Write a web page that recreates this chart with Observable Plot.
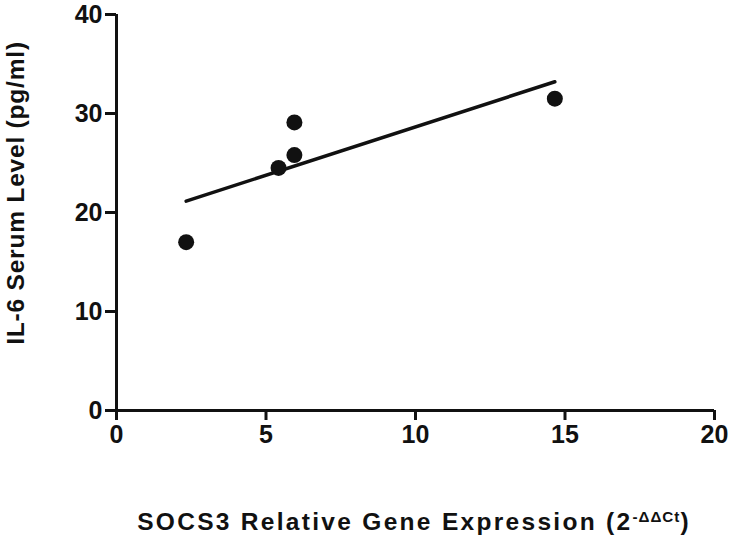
<!DOCTYPE html>
<html><head><meta charset="utf-8">
<script src="https://cdn.jsdelivr.net/npm/d3@7"></script>
<script src="https://cdn.jsdelivr.net/npm/@observablehq/plot@0.6"></script>
<style>body{margin:0;background:#fff} svg{display:block}</style>
</head><body><div id="chart"></div>
<script>
const socs3 = [2.33, 5.42, 5.95, 5.95, 14.66];
const il6 = [17.0, 24.5, 25.8, 29.1, 31.5];
const xTicks = [0, 5, 10, 15, 20];
const yTicks = [0, 10, 20, 30, 40];
const xTitle = "SOCS3 Relative Gene Expression (2";
const xTitleSup = "-ΔΔCt";
const xTitleEnd = ")";
const yTitle = "IL-6 Serum Level (pg/ml)";

const data = socs3.map((x, i) => ({x, y: il6[i]}));
const font = "'Liberation Sans', Arial, sans-serif";

const chart = Plot.plot({
  width: 730, height: 538,
  marginLeft: 116, marginRight: 16, marginTop: 14, marginBottom: 128,
  style: {fontFamily: font, fontSize: "25px", fontWeight: "bold", background: "#fff", color: "#111"},
  x: {domain: [0, 20]},
  y: {domain: [0, 40]},
  marks: [
    Plot.axisX({ticks: xTicks, tickSize: 10, tickPadding: 5, strokeWidth: 3, fontSize: 25, label: null}),
    Plot.axisY({ticks: yTicks, tickSize: 11, tickPadding: 3, strokeWidth: 3, fontSize: 25, label: null}),
    Plot.ruleY([0], {strokeWidth: 3, stroke: "#111"}),
    Plot.ruleX([0], {strokeWidth: 3, stroke: "#111"}),
    Plot.linearRegressionY(data, {x: "x", y: "y", ci: 0, stroke: "#111", strokeWidth: 3.5}),
    Plot.dot(data, {x: "x", y: "y", r: 8, fill: "#111", stroke: "none"})
  ]
});

const svg = d3.select(chart);
svg.selectAll('g[aria-label$="tick label"]')
  .attr("font-size", 25).attr("font-weight", "bold")
  .selectAll("text").attr("font-size", 25);

const xt = svg.append("text")
  .attr("x", 414).attr("y", 530)
  .attr("text-anchor", "middle")
  .attr("font-family", font).attr("font-weight", "bold").attr("font-size", 24.5)
  .attr("letter-spacing", "2.3px")
  .attr("fill", "#111");
xt.append("tspan").text(xTitle);
xt.append("tspan").attr("dy", "-0.5em").attr("font-size", "0.62em").attr("letter-spacing", "1px").text(xTitleSup);
xt.append("tspan").attr("dy", "0.31em").text(xTitleEnd);

svg.append("text")
  .attr("transform", "translate(24,193) rotate(-90)")
  .attr("text-anchor", "middle")
  .attr("font-family", font).attr("font-weight", "bold").attr("font-size", 24.5)
  .attr("letter-spacing", "0.8px")
  .attr("fill", "#111")
  .text(yTitle);

document.getElementById("chart").appendChild(chart);
</script>
</body></html>
